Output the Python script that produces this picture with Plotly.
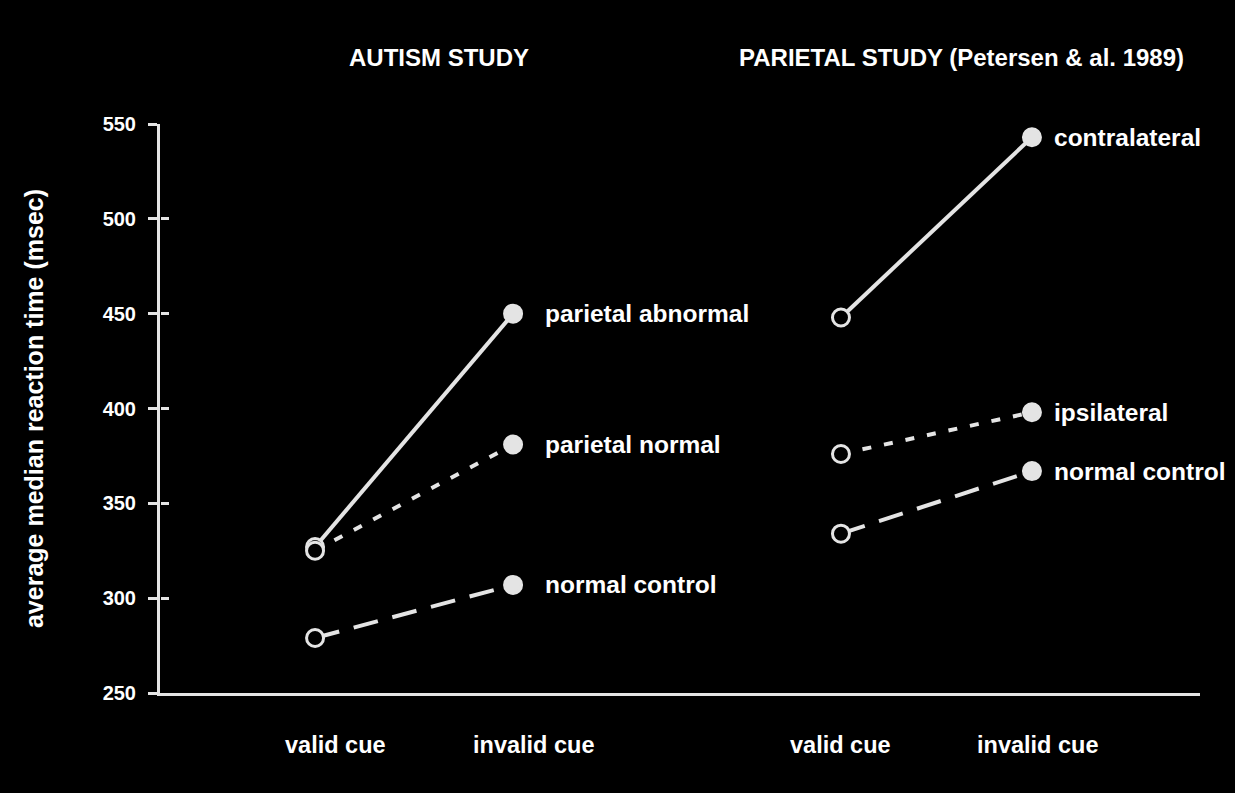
import plotly.graph_objects as go
from plotly.subplots import make_subplots

# data
conditions = ["valid cue", "invalid cue"]

autism_groups = ["parietal abnormal", "parietal normal", "normal control"]
autism_valid = [327, 325, 279]
autism_invalid = [450, 381, 307]

parietal_groups = ["contralateral", "ipsilateral", "normal control"]
parietal_valid = [448, 376, 334]
parietal_invalid = [543, 398, 367]

y_ticks = [250, 300, 350, 400, 450, 500, 550]

# styles
dashes = ["solid", "9px,13px", "25px,15px"]
line_col = "#e4e4e4"
font_family = "Liberation Sans, Arial, sans-serif"
W, H = 1235, 793
L, R, T, B = 160, 35, 124, 100


def bold(size):
    return dict(size=size, color="white", family=font_family, weight="bold")


fig = make_subplots(rows=1, cols=2, shared_yaxes=True, horizontal_spacing=0)

for col, groups, valid, invalid in [(1, autism_groups, autism_valid, autism_invalid),
                                    (2, parietal_groups, parietal_valid, parietal_invalid)]:
    xref = "x" if col == 1 else "x2"
    for i, name in enumerate(groups):
        fig.add_trace(go.Scatter(
            x=conditions, y=[valid[i], invalid[i]],
            mode="lines+markers", name=name, showlegend=False,
            line=dict(color=line_col, width=4, dash=dashes[i]),
            marker=dict(size=17, color=["black", line_col],
                        line=dict(color=line_col, width=3)),
        ), row=1, col=col)
        fig.add_annotation(
            x=1, y=invalid[i], xref=xref, yref="y",
            text=name, showarrow=False, xanchor="left",
            xshift=30 if col == 1 else 20, font=bold(24.5),
        )
    # condition labels under the axis (hand lettered, a bit right of the points)
    for j, cond in enumerate(conditions):
        fig.add_annotation(
            x=j, y=0, xref=xref, yref="paper", text=cond, showarrow=False,
            xanchor="center", yanchor="middle", yshift=-52,
            xshift=(20 if col == 1 else 6 * j), font=bold(23.5),
        )

# study titles, placed in pixels of the page
for text, px in [("AUTISM STUDY", 439), ("PARIETAL STUDY (Petersen & al. 1989)", 961)]:
    fig.add_annotation(text=text, showarrow=False, xref="paper", yref="paper",
                       x=(px - L) / (W - L - R), y=(H - B - 58) / (H - T - B),
                       xanchor="center", yanchor="middle", font=bold(24))

# inner halves of the y ticks
fig.add_trace(go.Scatter(x=[None], y=[None], xaxis="x", yaxis="y3",
                         showlegend=False, hoverinfo="skip"))

fig.update_xaxes(type="category", showgrid=False, zeroline=False,
                 showline=True, linecolor=line_col, linewidth=3,
                 ticks="", showticklabels=False)
fig.update_xaxes(range=[-0.783, 1.843], row=1, col=1)
fig.update_xaxes(range=[-0.843, 1.88], row=1, col=2)

fig.update_yaxes(range=[250, 550], showgrid=False, zeroline=False)
fig.update_yaxes(row=1, col=1, showline=True, linecolor=line_col, linewidth=3,
                 tickvals=y_ticks, ticks="outside", ticklen=9, tickwidth=3,
                 tickcolor=line_col, ticklabelstandoff=8, tickfont=bold(20),
                 title=dict(text="average median reaction time (msec)", standoff=52,
                            font=bold(25)))
fig.update_yaxes(row=1, col=2, showline=False, showticklabels=False, ticks="")

fig.update_layout(
    yaxis3=dict(overlaying="y", anchor="free", position=0, side="left",
                range=[250, 550], tickvals=y_ticks, ticks="inside", ticklen=8,
                tickwidth=3, tickcolor=line_col, showticklabels=False,
                showline=False, showgrid=False, zeroline=False),
    width=W, height=H,
    margin=dict(l=L, r=R, t=T, b=B),
    paper_bgcolor="black", plot_bgcolor="black",
    font=dict(family=font_family, color="white"),
)

fig.write_html("out.html", config={"displayModeBar": False},
               post_script="document.body.style.margin='0';"
                           "document.body.style.background='black';")
